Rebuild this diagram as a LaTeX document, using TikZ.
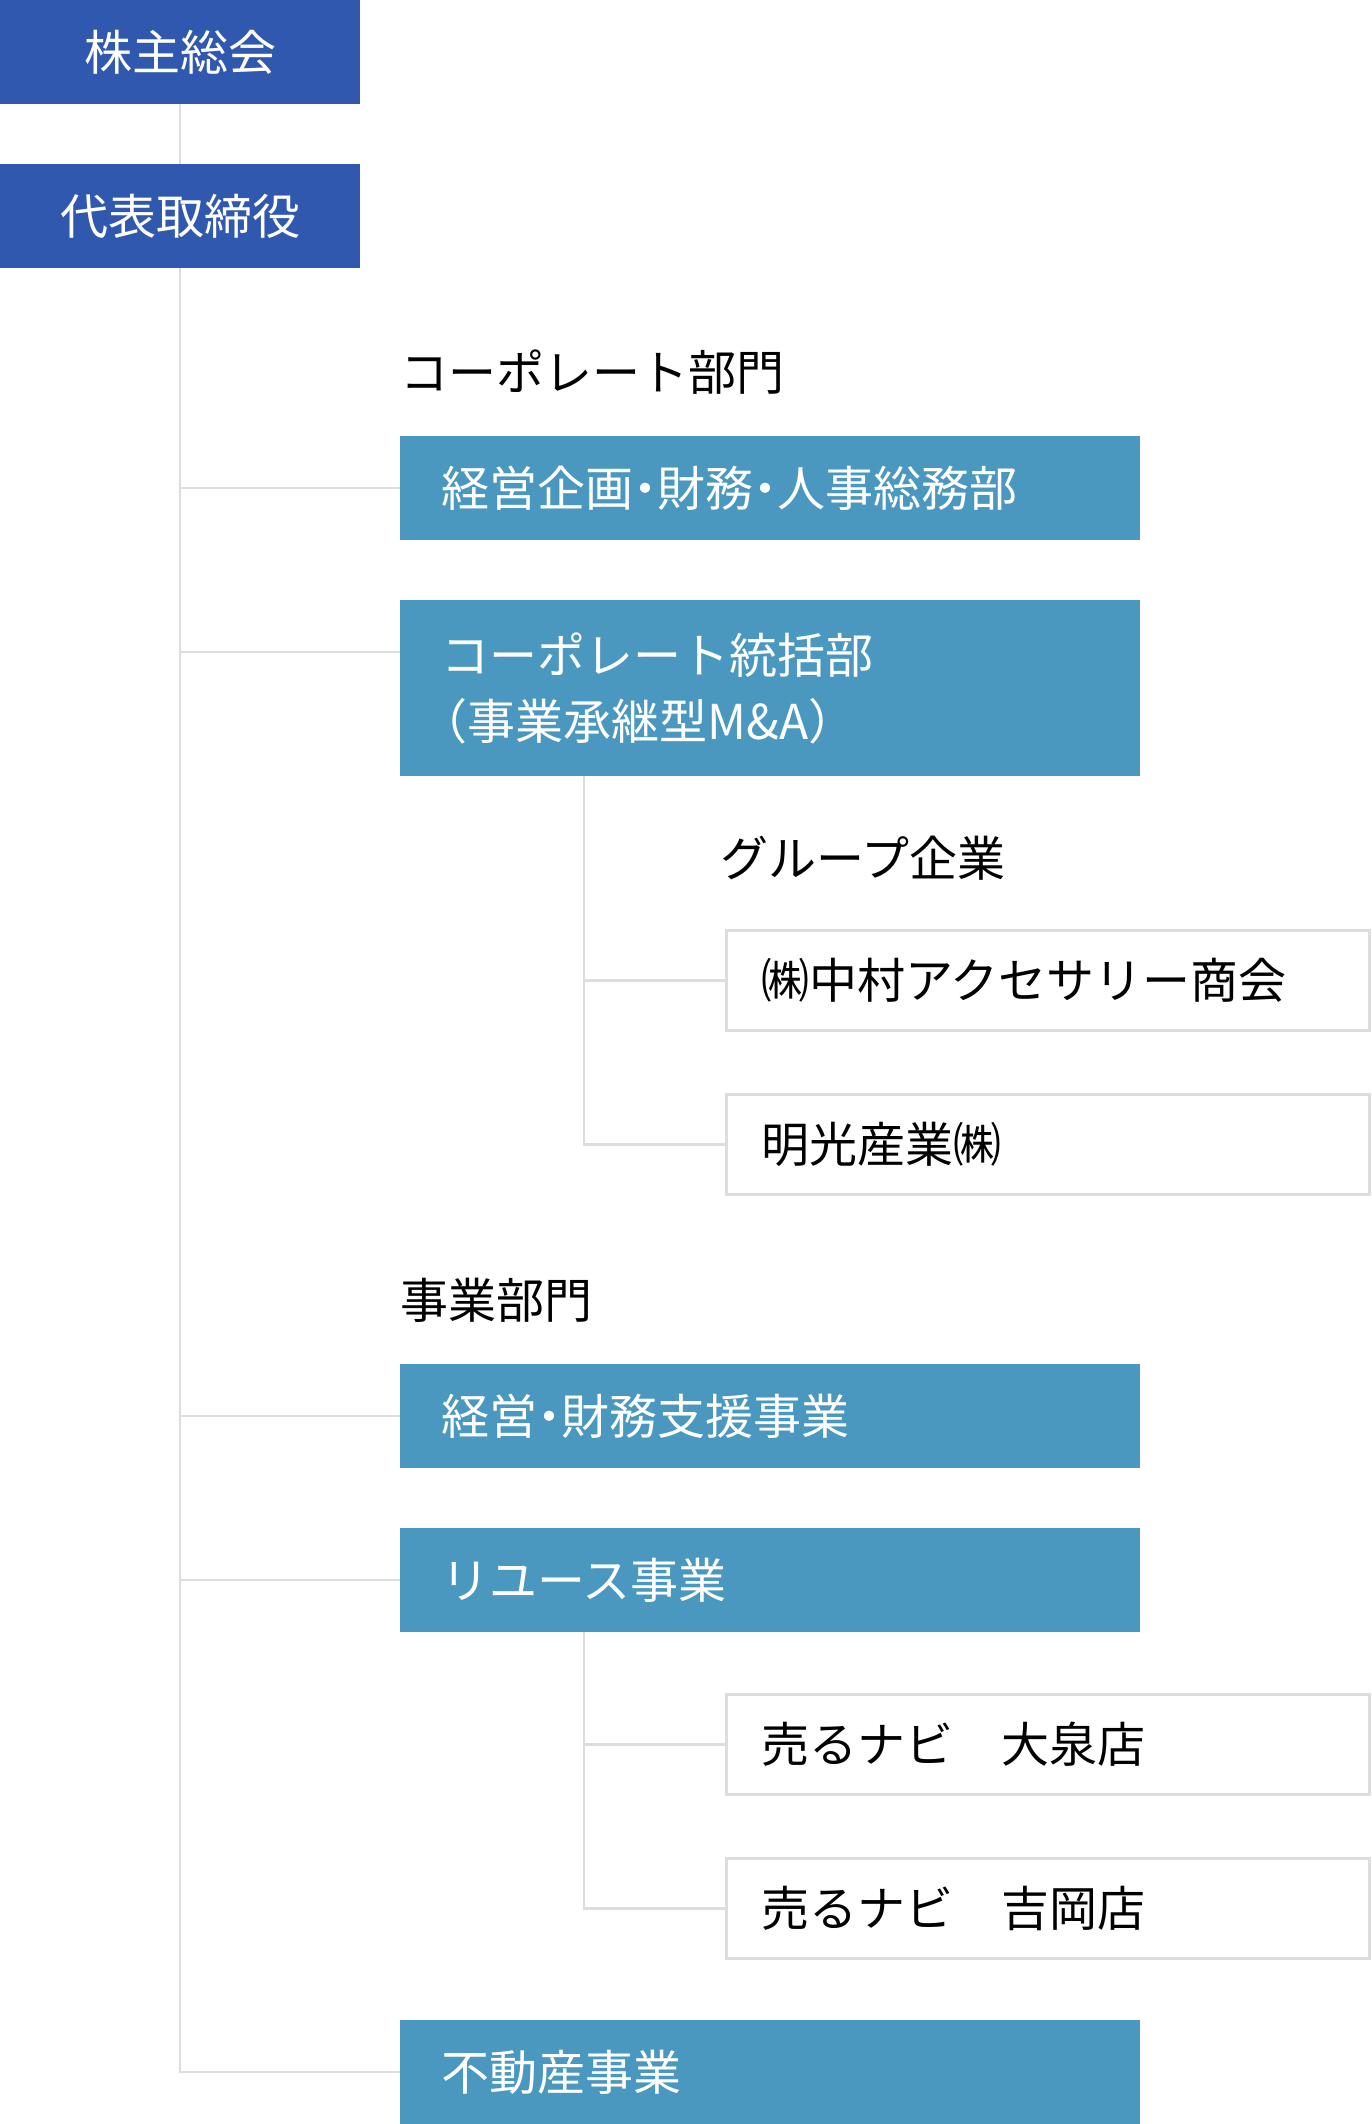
\documentclass[tikz,border=0pt]{standalone}
\usepackage{fontspec}
\setmainfont{Noto Sans CJK JP}
\definecolor{navy}{HTML}{2F58AE}
\definecolor{sky}{HTML}{4A97C0}
\definecolor{linegray}{HTML}{DDDDDD}
\newcommand{\mdot}{\makebox[0.5em]{・}}
\begin{document}
\begin{tikzpicture}[x=1pt,y=-1pt,
  font=\fontsize{48}{66}\selectfont,
  topbox/.style={fill=navy,text=white,minimum width=360pt,minimum height=104pt,inner sep=0pt,outer sep=0pt,anchor=north west},
  bluebox/.style={fill=sky,text=white,anchor=north west,text width=658pt,inner xsep=41pt,inner ysep=0pt,outer sep=0pt,minimum height=104pt,align=left},
  whitebox/.style={draw=linegray,line width=3pt,fill=white,text=black,anchor=north west,text width=574pt,inner xsep=34.5pt,inner ysep=0pt,minimum height=100pt,align=left},
  conn/.style={draw=linegray,line width=2.5pt},
  sectlabel/.style={anchor=west,inner sep=0pt,outer sep=0pt,text=black}
]
\useasboundingbox (0,0) rectangle (1372,2124);

% top
\node[topbox] (sh) at (0,0) {株主総会};
\node[topbox] (ceo) at (0,164) {代表取締役};

% corporate division
\node[sectlabel] (lcorp) at (400,372) {コーポレート部門};
\node[bluebox] (kk) at (400,436) {経営企画\mdot 財務\mdot 人事総務部};
\node[bluebox,minimum height=176pt] (cb) at (400,600) {コーポレート統括部\\\hspace*{-0.45em}（事業承継型M\&A）};
\coordinate (cbin) at ([yshift=-52pt]cb.north west);

\node[sectlabel] (lgrp) at (720,858) {グループ企業};
\node[whitebox] (nk) at (725,929) {㈱中村アクセサリー商会};
\node[whitebox] (mk) at (725,1093) {明光産業㈱};

% business division
\node[sectlabel] (lbiz) at (400,1300) {事業部門};
\node[bluebox] (kz) at (400,1364) {経営\mdot 財務支援事業};
\node[bluebox] (ru) at (400,1528) {リユース事業};
\node[whitebox] (oi) at (725,1693) {売るナビ　大泉店};
\node[whitebox] (yo) at (725,1857) {売るナビ　吉岡店};
\node[bluebox] (re) at (400,2020) {不動産事業};

% connectors
\draw[conn] (sh.south) -- (ceo.north);
\draw[conn] (ceo.south) |- (re.west);
\draw[conn] (ceo.south |- kk.west) -- (kk.west);
\draw[conn] (ceo.south |- cbin) -- (cbin);
\draw[conn] (ceo.south |- kz.west) -- (kz.west);
\draw[conn] (ceo.south |- ru.west) -- (ru.west);

\coordinate (v1) at ([xshift=184pt]cb.south west);
\draw[conn] (v1) |- (mk.west);
\draw[conn] (v1 |- nk.west) -- (nk.west);

\coordinate (v2) at ([xshift=184pt]ru.south west);
\draw[conn] (v2) |- (yo.west);
\draw[conn] (v2 |- oi.west) -- (oi.west);
\end{tikzpicture}
\end{document}
